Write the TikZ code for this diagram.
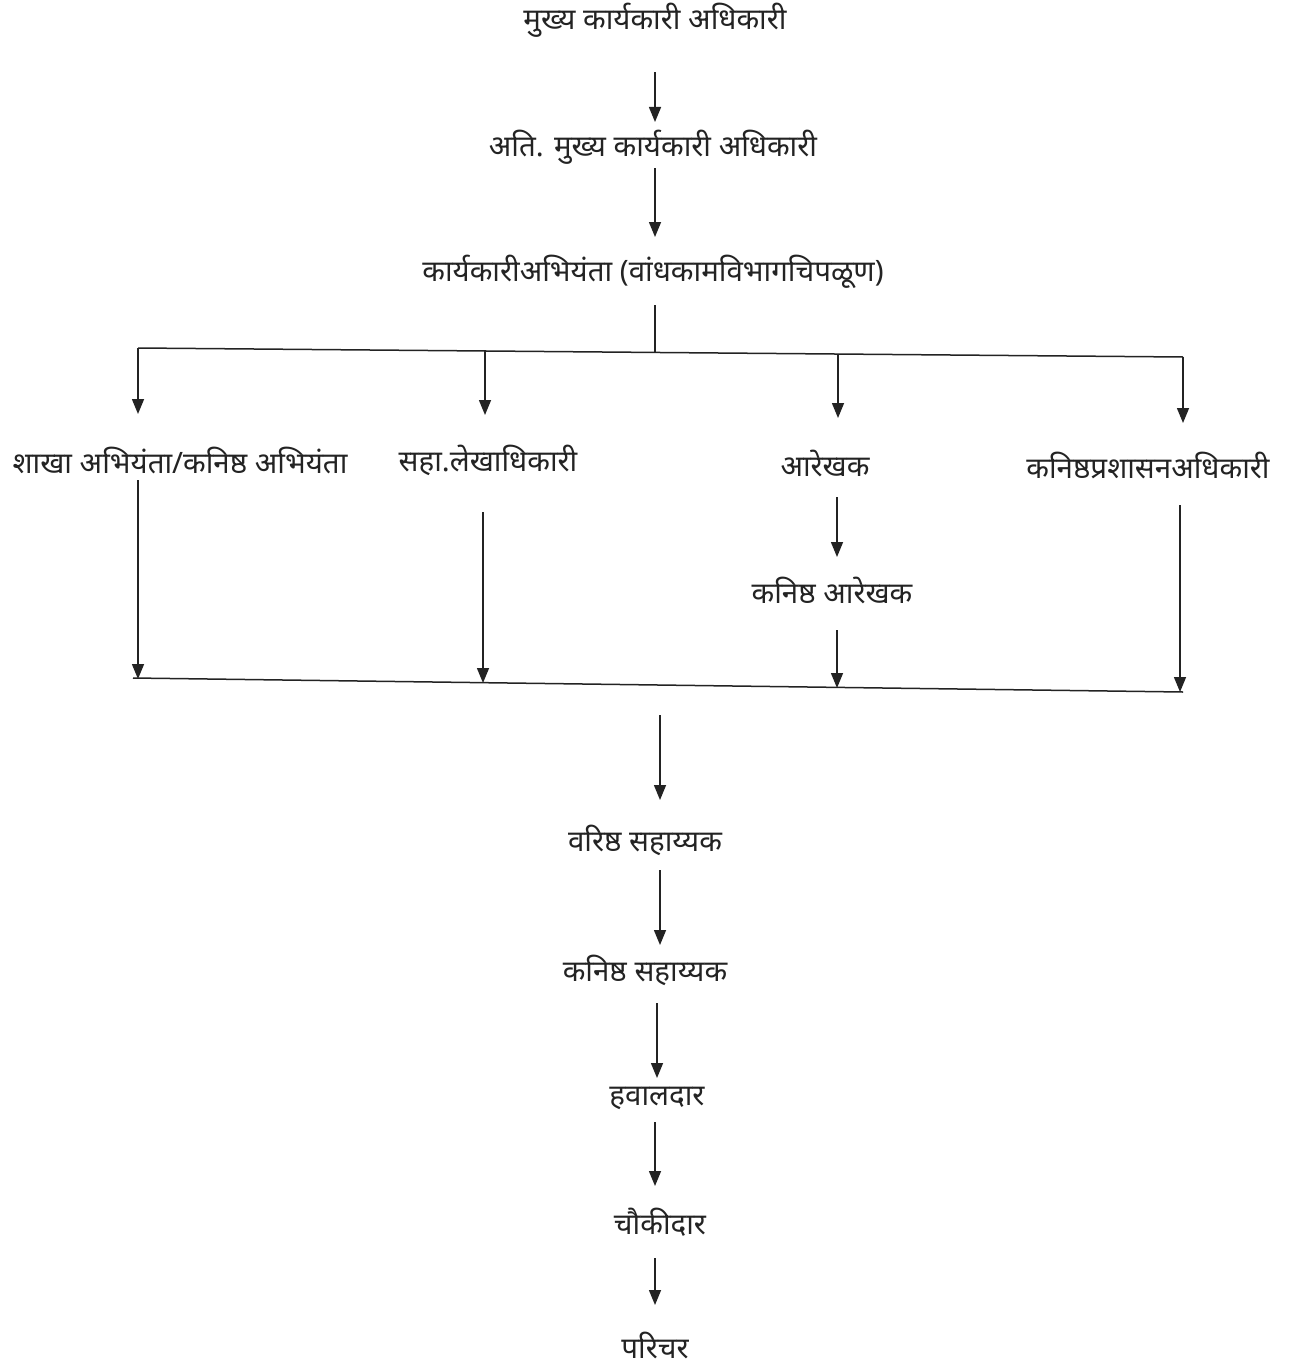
\documentclass[tikz,border=0pt]{standalone}
\usepackage{fontspec}
\newfontfamily\dev[Script=Devanagari]{Noto Sans}
\usetikzlibrary{arrows.meta}
\definecolor{ink}{RGB}{35,35,35}
\begin{document}
\begin{tikzpicture}[x=1pt,y=-1pt,
  lbl/.style={inner sep=0pt,text=ink,font=\dev\fontsize{29.5}{32}\selectfont},
  arr/.style={draw=ink,line width=1.5pt,-{Triangle[length=15pt,width=12pt]}},
  ln/.style={draw=ink,line width=1.5pt}]
\useasboundingbox[fill=white] (0,0) rectangle (1302,1370);
% top chain
\node[lbl] (t1) at (655,20) {मुख्य कार्यकारी अधिकारी};
\node[lbl] (t2) at (653,147) {अति. मुख्य कार्यकारी अधिकारी};
\node[lbl] (t3) at (653,272) {कार्यकारीअभियंता (वांधकामविभागचिपळूण)};
% row
\node[lbl] (r1) at (180,460) {शाखा अभियंता/कनिष्ठ अभियंता};
\node[lbl] (r2) at (488,460) {सहा.लेखाधिकारी};
\node[lbl] (r3) at (825,463) {आरेखक};
\node[lbl] (r4) at (1148,465) {कनिष्ठप्रशासनअधिकारी};
\node[lbl] (r3b) at (832,590) {कनिष्ठ आरेखक};
% bottom chain
\node[lbl] (v1) at (645,840) {वरिष्ठ सहाय्यक};
\node[lbl] (v2) at (645,970) {कनिष्ठ सहाय्यक};
\node[lbl] (v3) at (657,1098) {हवालदार};
\node[lbl] (v4) at (660,1222) {चौकीदार};
\node[lbl] (v5) at (655,1345) {परिचर};
% buses
\coordinate (tl) at (138,348);
\coordinate (tr) at (1183,357);
\coordinate (tm) at (655,352);
\coordinate (d2) at (485,351);
\coordinate (d3) at (838,354);
\coordinate (bl) at (133,678);
\coordinate (br) at (1183,692);
\coordinate (b1) at (138,679);
\coordinate (b2) at (483,683);
\coordinate (b3) at (837,688);
\coordinate (b4) at (1180,692);
\coordinate (bm) at (660,685);
% top chain arrows
\draw[arr,shorten <=35pt,shorten >=25pt] (t1) -- (t1 |- t2);
\draw[arr,shorten <=21pt,shorten >=35pt] (t1 |- t2) -- (t1 |- t3);
\draw[ln,shorten <=33pt] (t1 |- t3) -- (tm);
\draw[ln] (tl) -- (tr);
% drops to row
\draw[arr,shorten >=46pt] (tl) -- (tl |- r1);
\draw[arr,shorten >=45pt] (d2) -- (d2 |- r2);
\draw[arr,shorten >=45pt] (d3) -- (d3 |- r3);
\draw[arr,shorten >=42pt] (tr) -- (tr |- r4);
% row to bottom bus
\draw[arr,shorten <=20pt] (b1 |- r1) -- (b1);
\draw[arr,shorten <=52pt] (b2 |- r2) -- (b2);
\draw[arr,shorten <=34pt,shorten >=33pt] (b3 |- r3) -- (b3 |- r3b);
\draw[arr,shorten <=40pt] (b3 |- r3b) -- (b3);
\draw[arr,shorten <=40pt] (b4 |- r4) -- (b4);
\draw[ln] (bl) -- (br);
% bottom chain arrows
\draw[arr,shorten <=30pt,shorten >=40pt] (bm) -- (bm |- v1);
\draw[arr,shorten <=30pt,shorten >=25pt] (bm |- v1) -- (bm |- v2);
\draw[arr,shorten <=33pt,shorten >=20pt] ([xshift=-3pt]bm |- v2) -- ([xshift=-3pt]bm |- v3);
\draw[arr,shorten <=24pt,shorten >=36pt] ([xshift=-5pt]bm |- v3) -- ([xshift=-5pt]bm |- v4);
\draw[arr,shorten <=36pt,shorten >=40pt] ([xshift=-5pt]bm |- v4) -- ([xshift=-5pt]bm |- v5);
\end{tikzpicture}
\end{document}
